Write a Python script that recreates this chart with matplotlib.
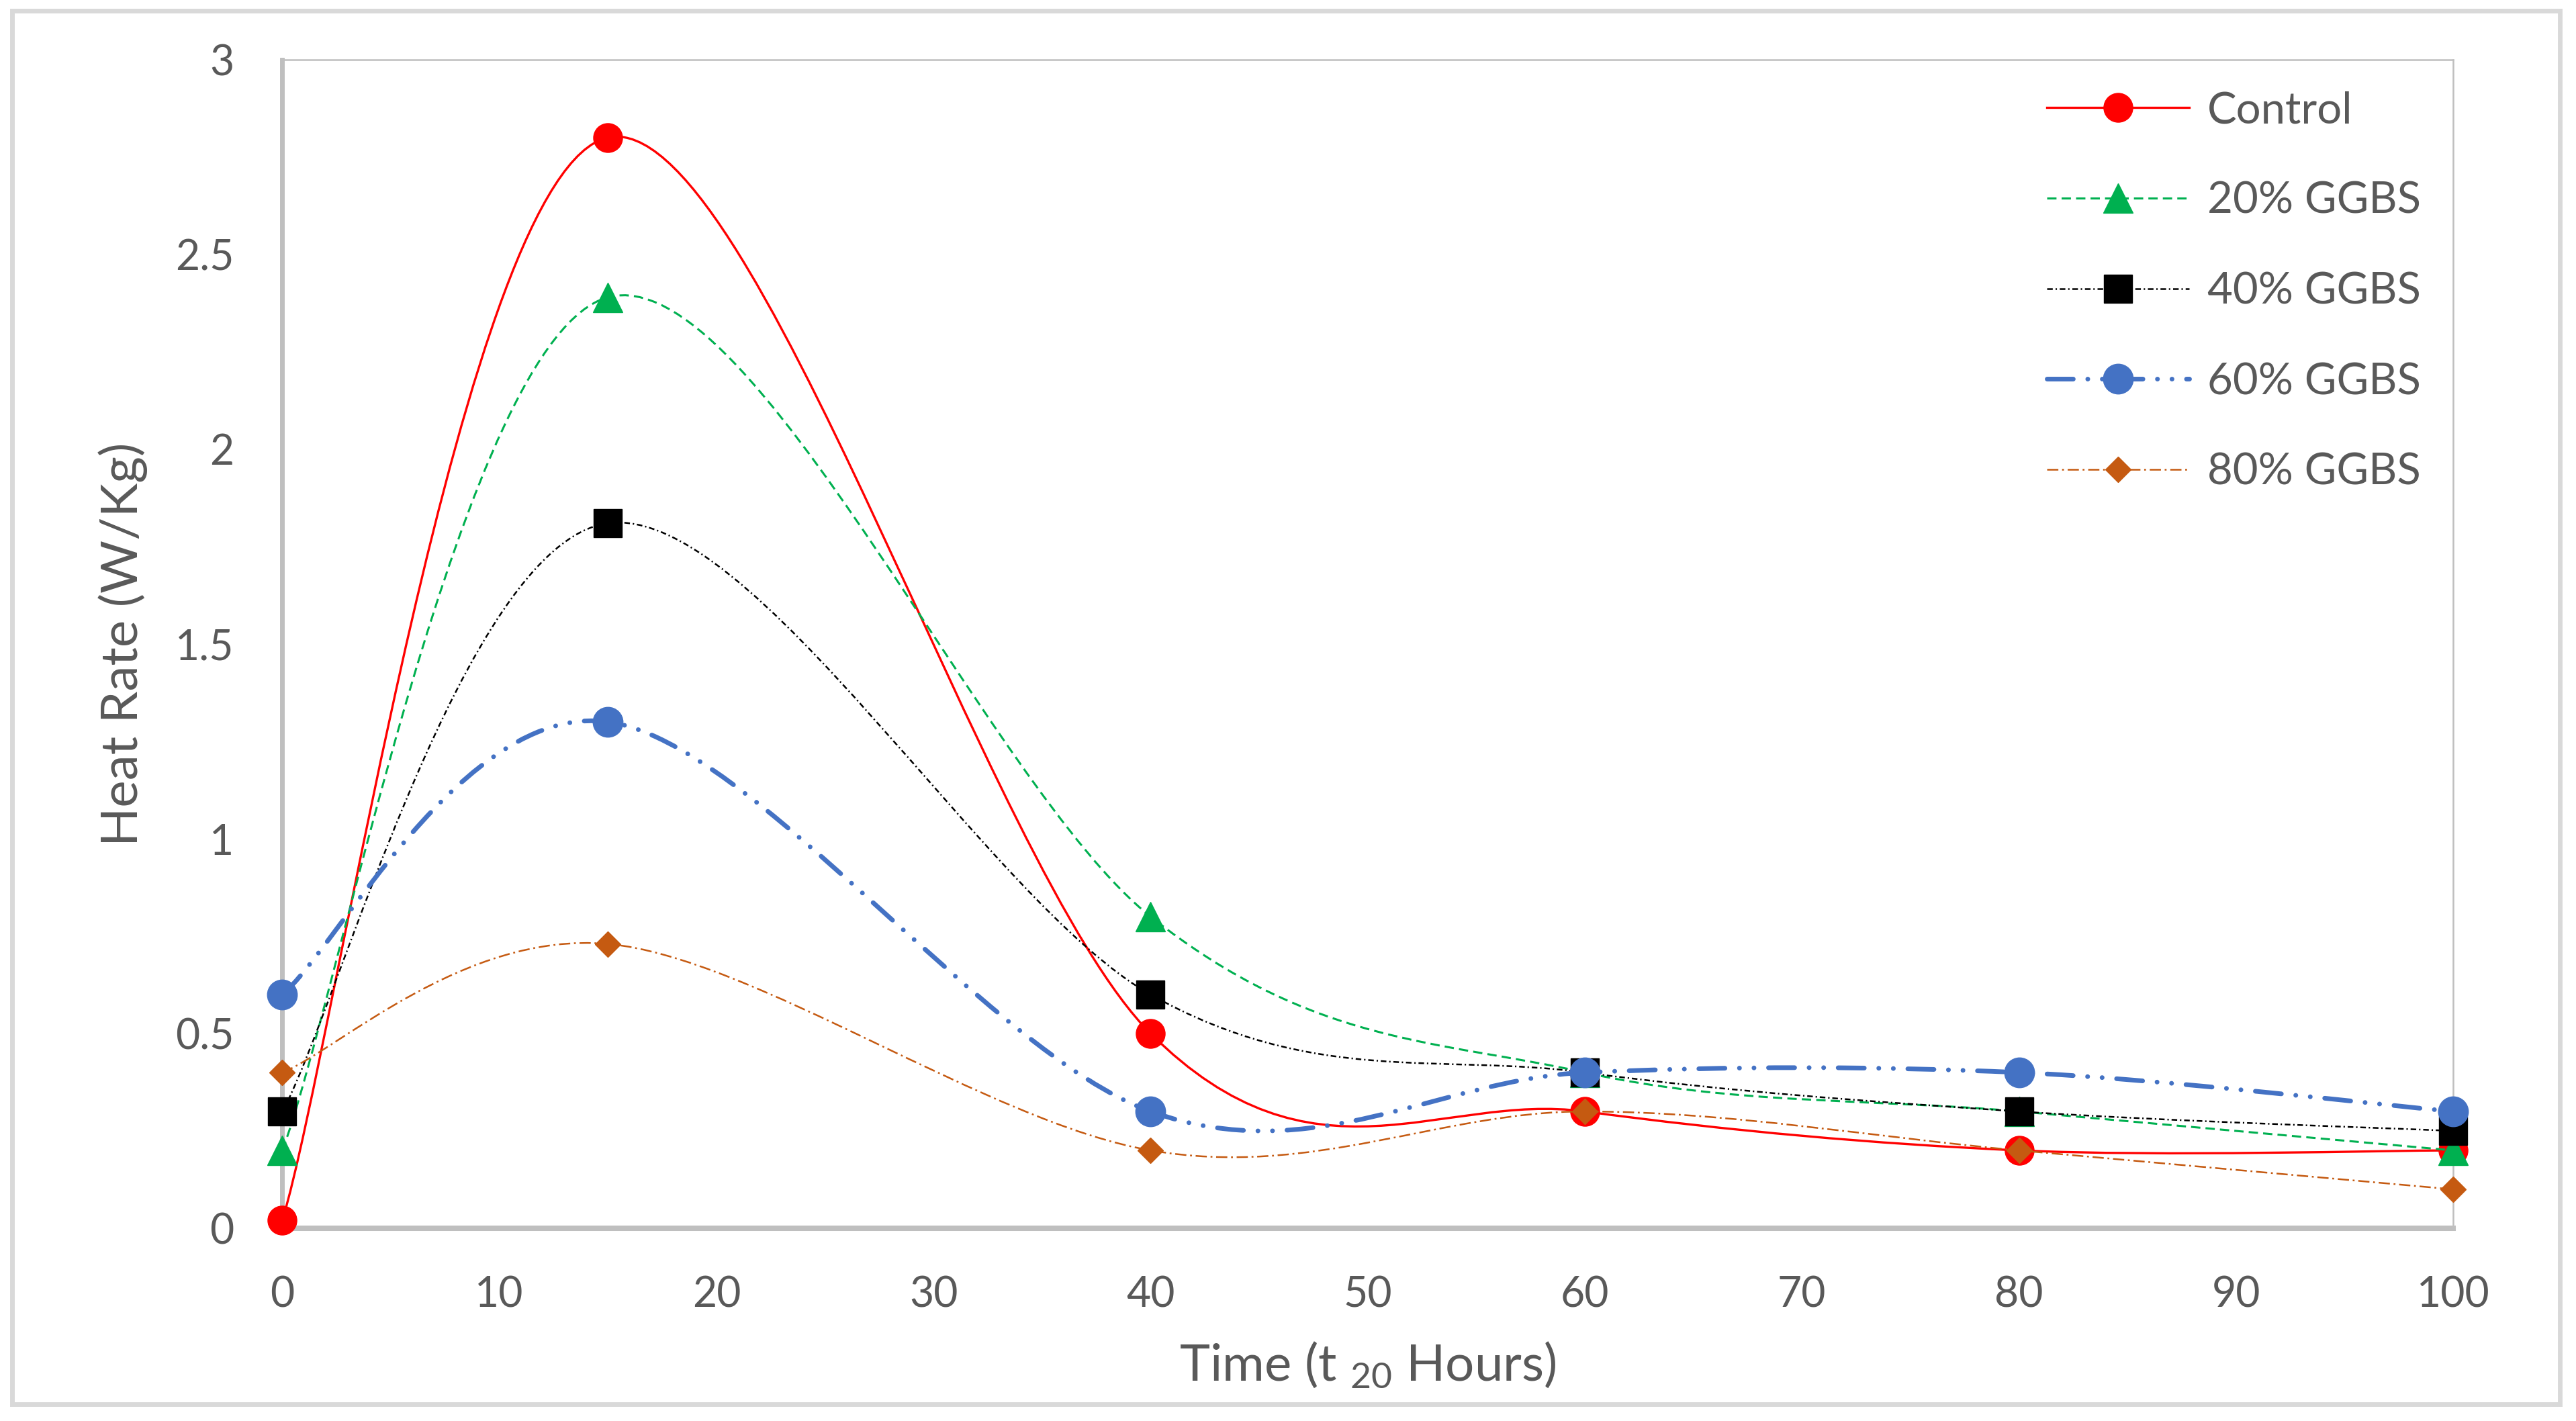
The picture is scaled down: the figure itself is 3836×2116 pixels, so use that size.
import numpy as np
import matplotlib
matplotlib.use("Agg")
from matplotlib import pyplot as plt
from matplotlib.path import Path
from matplotlib.patches import PathPatch, Rectangle
from matplotlib.lines import Line2D

plt.rcParams['font.family'] = ['Lato', 'DejaVu Sans']
plt.rcParams['mathtext.fontset'] = 'custom'
plt.rcParams['mathtext.rm'] = 'Lato'
plt.rcParams['mathtext.it'] = 'Lato:italic'
plt.rcParams['lines.scale_dashes'] = False

# data
time_h = [0, 15, 40, 60, 80, 100]
control = [0.02, 2.80, 0.50, 0.30, 0.20, 0.20]
ggbs20 = [0.20, 2.39, 0.80, 0.40, 0.30, 0.20]
ggbs40 = [0.30, 1.81, 0.60, 0.40, 0.30, 0.25]
ggbs60 = [0.60, 1.30, 0.30, 0.40, 0.40, 0.30]
ggbs80 = [0.40, 0.73, 0.20, 0.30, 0.20, 0.10]

series_names = ['Control', '20% GGBS', '40% GGBS', '60% GGBS', '80% GGBS']
x_ticks = [0, 10, 20, 30, 40, 50, 60, 70, 80, 90, 100]
y_ticks = [0, 0.5, 1, 1.5, 2, 2.5, 3]

text_grey = '#595959'
axis_grey = '#BFBFBF'

styles = [
    dict(color='#FF0000', lw=2.4, ls='-', marker='o', ms=31, cap='butt'),
    dict(color='#00B050', lw=2.2, ls=(0, (10, 5.5)), marker='^', ms=31, cap='butt'),
    dict(color='#000000', lw=1.8, ls=(0, (6, 3, 1.5, 3)), marker='s', ms=30, cap='butt'),
    dict(color='#4472C4', lw=5.0, ls=(0, (28, 15.5, 0.1, 15.5, 0.1, 15.5)), marker='o', ms=32, cap='round'),
    dict(color='#C55A11', lw=1.8, ls=(0, (12, 4, 2, 4)), marker='D', ms=19, cap='butt'),
]


def smooth_path(x, y):
    # bezier segments like the spreadsheet "smoothed line" option
    n = len(x)
    verts = [(x[0], y[0])]
    codes = [Path.MOVETO]
    for i in range(n - 1):
        xa, ya = (x[i - 1], y[i - 1]) if i > 0 else (x[i], y[i])
        xb, yb = (x[i + 2], y[i + 2]) if i + 2 < n else (x[i + 1], y[i + 1])
        c1 = (x[i] + (x[i + 1] - xa) / 6, y[i] + (y[i + 1] - ya) / 6)
        c2 = (x[i + 1] - (xb - x[i]) / 6, y[i + 1] - (yb - y[i]) / 6)
        verts += [c1, c2, (x[i + 1], y[i + 1])]
        codes += [Path.CURVE4] * 3
    return Path(verts, codes)


fig = plt.figure(figsize=(38.36, 21.16), dpi=100)
ax = fig.add_axes([0.1096, 0.1356, 0.8427, 0.8224])

handles = []
for k, (name, vals, st) in enumerate(zip(series_names, [control, ggbs20, ggbs40, ggbs60, ggbs80], styles)):
    patch = PathPatch(smooth_path(time_h, vals), fill=False, edgecolor=st['color'],
                      linewidth=st['lw'], linestyle=st['ls'], capstyle=st['cap'],
                      joinstyle='round', zorder=3 + 2 * k, clip_on=False)
    ax.add_patch(patch)
    ax.plot(time_h, vals, linestyle='none', marker=st['marker'], markersize=st['ms'],
            color=st['color'], markeredgecolor=st['color'], zorder=4 + 2 * k, clip_on=False)
    handles.append(Line2D([], [], color=st['color'], lw=st['lw'], linestyle=st['ls'],
                          dash_capstyle=st['cap'], marker=st['marker'], markersize=st['ms'],
                          markeredgecolor=st['color'], label=name))

ax.set_xlim(0, 100)
ax.set_ylim(0, 3)
ax.set_xticks(x_ticks)
ax.set_xticklabels([f'{v:g}' for v in x_ticks])
ax.set_yticks(y_ticks)
ax.set_yticklabels([f'{v:g}' for v in y_ticks])
ax.tick_params(axis='both', length=0, labelsize=45, labelcolor=text_grey)
ax.tick_params(axis='x', pad=51)
ax.tick_params(axis='y', pad=52)

for side, lw in [('left', 5.0), ('bottom', 5.8), ('top', 1.8), ('right', 1.8)]:
    ax.spines[side].set_color(axis_grey)
    ax.spines[side].set_linewidth(lw)

ax.set_ylabel('Heat Rate (W/Kg)', fontsize=55, color=text_grey)
ax.yaxis.set_label_coords(-0.0733, 0.5)
ax.yaxis.label.set_verticalalignment('center')
ax.set_xlabel('Time (t $_{20}$ Hours)', fontsize=55, color=text_grey)
ax.xaxis.set_label_coords(0.5, -0.1299)
ax.xaxis.label.set_verticalalignment('baseline')

leg = ax.legend(handles=handles, loc='upper left', bbox_to_anchor=(3048 / 3836, 1 - 135 / 2116),
                bbox_transform=fig.transFigure, frameon=False, fontsize=47, numpoints=1,
                handlelength=3.25, handletextpad=0.41, labelspacing=1.16,
                borderpad=0, borderaxespad=0)
for t in leg.get_texts():
    t.set_color(text_grey)

# outer chart border
fig.add_artist(Rectangle((18 / 3836, 1 - 2091 / 2116), (3812 - 18) / 3836, (2091 - 16) / 2116,
                         transform=fig.transFigure, fill=False, edgecolor='#D9D9D9', linewidth=5))

fig.savefig('out.png', dpi=100)
